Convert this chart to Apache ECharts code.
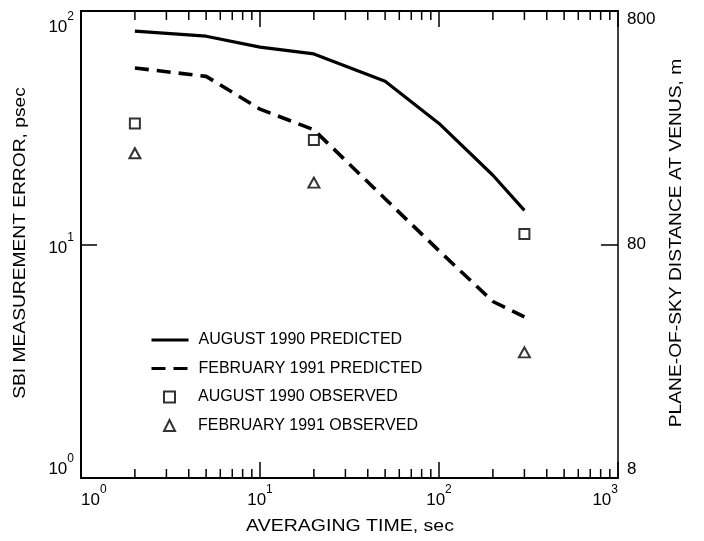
<!DOCTYPE html>
<html>
<head>
<meta charset="utf-8">
<script src="https://cdn.jsdelivr.net/npm/echarts@6/dist/echarts.min.js"></script>
<style>
html,body{margin:0;padding:0;background:#fff;}
#chart{width:704px;height:541px;}
</style>
</head>
<body>
<div id="chart"></div>
<script>
// ---- data ----
const predTimes = [2, 5, 10, 20, 50, 100, 200, 300];
const aug1990Predicted = [82, 78, 70, 65.5, 50, 33, 19.8, 14.0];
const feb1991Predicted = [57, 52.5, 38, 31, 15.7, 9.4, 5.7, 4.9];
const obsTimes = [2, 20, 300];
const aug1990Observed = [33, 28, 11.1];
const feb1991Observed = [24.6, 18.4, 3.45];

const xTickLabels = {1: '10^0', 10: '10^1', 100: '10^2', 1000: '10^3'};
const yLeftTickLabels = {1: '10^0', 10: '10^1', 100: '10^2'};
const yRightTickLabels = {1: '8', 10: '80', 100: '800'};
const xMinorTicks = [2,3,4,5,6,7,8,9,20,30,40,50,60,70,80,90,200,300,400,500,600,700,800,900];
const yMinorTicks = [2,3,4,5,6,7,8,9,20,30,40,50,60,70,80,90];

const seriesNames = ['AUGUST 1990 PREDICTED', 'FEBRUARY 1991 PREDICTED', 'AUGUST 1990 OBSERVED', 'FEBRUARY 1991 OBSERVED'];
const xTitle = 'AVERAGING TIME, sec';
const yLeftTitle = 'SBI MEASUREMENT ERROR, psec';
const yRightTitle = 'PLANE-OF-SKY DISTANCE AT VENUS, m';

// ---- helpers ----
const FONT = "'Liberation Sans', Arial, Helvetica, sans-serif";
function powLabel(map) {
  return function (v) {
    const key = Math.round(v);
    const s = map[key];
    if (s === undefined) return '';
    const parts = s.split('^');
    return '{b|' + parts[0] + '}{s|' + parts[1] + '}';
  };
}
const powRich = {
  b: {fontSize: 17, fontFamily: FONT, color: '#000', lineHeight: 25, verticalAlign: 'bottom'},
  s: {fontSize: 12, fontFamily: FONT, color: '#000', lineHeight: 12, verticalAlign: 'top'}
};
const axisLineStyle = {color: '#000', width: 2};

const chart = echarts.init(document.getElementById('chart'), null, {renderer: 'canvas'});

function tickRenderer(kind) {
  return function (params, api) {
    const v = api.value(0);
    const st = {stroke: '#000', lineWidth: 1.5};
    const L = 9;
    if (kind === 'x') {
      const b = api.coord([v, 1]);
      const t = api.coord([v, 100]);
      return {type: 'group', children: [
        {type: 'line', shape: {x1: b[0], y1: b[1], x2: b[0], y2: b[1] - L}, style: st},
        {type: 'line', shape: {x1: t[0], y1: t[1], x2: t[0], y2: t[1] + L}, style: st}
      ]};
    } else {
      const l = api.coord([1, v]);
      const r = api.coord([1000, v]);
      return {type: 'group', children: [
        {type: 'line', shape: {x1: l[0], y1: l[1], x2: l[0] + L, y2: l[1]}, style: st},
        {type: 'line', shape: {x1: r[0], y1: r[1], x2: r[0] - L, y2: r[1]}, style: st}
      ]};
    }
  };
}

const legendText = {fontSize: 16, fontFamily: FONT, color: '#000', lineHeight: 16};

const option = {
  animation: false,
  backgroundColor: '#fff',
  grid: {left: 81, right: 86, top: 11, bottom: 63, containLabel: false},
  xAxis: [
    {
      type: 'log', logBase: 10, min: 1, max: 1000, position: 'bottom',
      axisLine: {show: true, lineStyle: axisLineStyle},
      axisTick: {show: true, inside: true, length: 16, lineStyle: {color: '#000', width: 1.5}},
      axisLabel: {formatter: powLabel(xTickLabels), rich: powRich, margin: 6,
        alignMinLabel: 'left', alignMaxLabel: 'right', showMinLabel: true, showMaxLabel: true},
      splitLine: {show: false}
    },
    {
      type: 'log', logBase: 10, min: 1, max: 1000, position: 'top',
      axisLine: {show: true, lineStyle: axisLineStyle},
      axisTick: {show: true, inside: true, length: 16, lineStyle: {color: '#000', width: 1.5}},
      axisLabel: {show: false},
      splitLine: {show: false}
    }
  ],
  yAxis: [
    {
      type: 'log', logBase: 10, min: 1, max: 100, position: 'left',
      axisLine: {show: true, lineStyle: axisLineStyle},
      axisTick: {show: true, inside: true, length: 16, lineStyle: {color: '#000', width: 1.5}},
      axisLabel: {formatter: powLabel(yLeftTickLabels), rich: powRich, margin: 7,
        verticalAlignMinLabel: 'bottom', verticalAlignMaxLabel: 'top', showMinLabel: true, showMaxLabel: true},
      splitLine: {show: false}
    },
    {
      type: 'log', logBase: 10, min: 1, max: 100, position: 'right',
      axisLine: {show: true, lineStyle: {color: '#000', width: 1.5}},
      axisTick: {show: true, inside: true, length: 17, lineStyle: {color: '#000', width: 1.5}},
      axisLabel: {formatter: function (v) { return yRightTickLabels[Math.round(v)] || ''; },
        fontSize: 17, fontFamily: FONT, color: '#000', margin: 9,
        verticalAlignMinLabel: 'bottom', verticalAlignMaxLabel: 'top', showMinLabel: true, showMaxLabel: true},
      splitLine: {show: false}
    }
  ],
  legend: [
    {
      orient: 'vertical', left: 150, top: 332, padding: 0,
      itemWidth: 37, itemHeight: 12, itemGap: 12.5,
      data: seriesNames.slice(0, 2),
      itemStyle: {opacity: 0},
      lineStyle: {width: 3},
      textStyle: Object.assign({padding: [0, 0, 0, 5]}, legendText),
      selectedMode: false
    },
    {
      orient: 'vertical', left: 163, top: 389, padding: 0,
      itemWidth: 11, itemHeight: 11, itemGap: 12.5,
      data: seriesNames.slice(2, 4),
      textStyle: Object.assign({padding: [0, 0, 0, 18]}, legendText),
      selectedMode: false
    }
  ],
  graphic: [
    {type: 'text', x: 350, y: 527, scaleX: 1.22, style: {text: xTitle, font: '16px ' + FONT, fill: '#000', align: 'center', verticalAlign: 'middle'}},
    {type: 'text', x: 21, y: 243, rotation: Math.PI / 2, scaleX: 1.2, style: {text: yLeftTitle, font: '16px ' + FONT, fill: '#000', align: 'center', verticalAlign: 'middle'}},
    {type: 'text', x: 677, y: 243, rotation: Math.PI / 2, scaleX: 1.2, style: {text: yRightTitle, font: '16px ' + FONT, fill: '#000', align: 'center', verticalAlign: 'middle'}}
  ],
  series: [
    {
      name: seriesNames[0], type: 'line', xAxisIndex: 0, yAxisIndex: 0,
      data: predTimes.map((t, i) => [t, aug1990Predicted[i]]),
      symbol: 'none', lineStyle: {color: '#000', width: 3.2}, itemStyle: {color: '#000'}, z: 3
    },
    {
      name: seriesNames[1], type: 'line', xAxisIndex: 0, yAxisIndex: 0,
      data: predTimes.map((t, i) => [t, feb1991Predicted[i]]),
      symbol: 'none', lineStyle: {color: '#000', width: 3.6, type: [14, 8]}, itemStyle: {color: '#000'}, z: 3
    },
    {
      name: seriesNames[2], type: 'scatter', xAxisIndex: 0, yAxisIndex: 0,
      data: obsTimes.map((t, i) => [t, aug1990Observed[i]]),
      symbol: 'rect', symbolSize: 10,
      itemStyle: {color: '#fff', borderColor: '#000', borderWidth: 2}, z: 4
    },
    {
      name: seriesNames[3], type: 'scatter', xAxisIndex: 0, yAxisIndex: 0,
      data: obsTimes.map((t, i) => [t, feb1991Observed[i]]),
      symbol: 'triangle', symbolSize: [11, 10],
      itemStyle: {color: '#fff', borderColor: '#000', borderWidth: 2}, z: 4
    },
    {
      type: 'custom', xAxisIndex: 0, yAxisIndex: 0, silent: true,
      data: xMinorTicks.map(v => [v, 1]), encode: {x: 0, y: 1},
      renderItem: tickRenderer('x'), z: 5
    },
    {
      type: 'custom', xAxisIndex: 0, yAxisIndex: 0, silent: true,
      data: yMinorTicks.map(v => [1, v]), encode: {x: 0, y: 1},
      renderItem: tickRenderer('y'), z: 5
    }
  ]
};
chart.setOption(option);
</script>
</body>
</html>
